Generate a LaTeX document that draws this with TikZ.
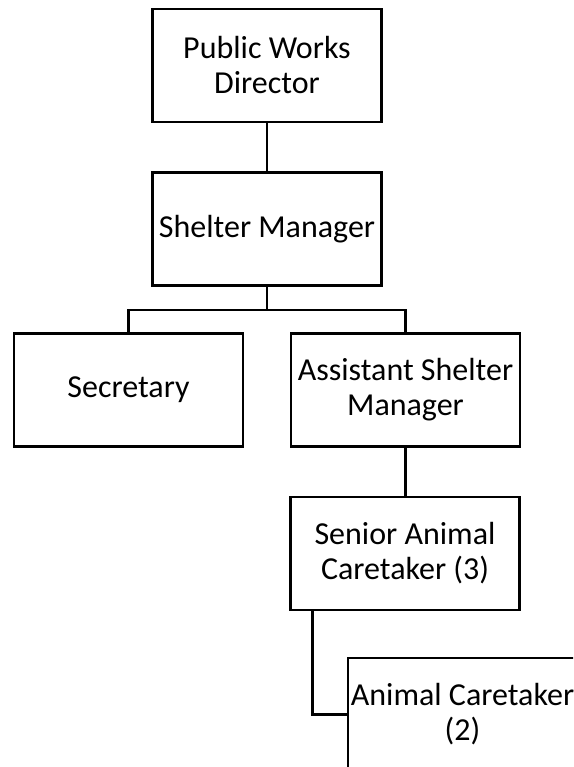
\documentclass[tikz,border=0pt]{standalone}
\usepackage{fontspec}
\setmainfont{Carlito}
\begin{document}
\begin{tikzpicture}[x=1pt,y=-1pt,
  box/.style={draw, line width=2.5pt, rectangle, minimum width=229pt, minimum height=113pt,
    inner sep=0pt, align=center, font=\fontsize{32}{35}\selectfont},
  conn/.style={line width=2.5pt}]
\useasboundingbox (0,0) rectangle (573,767);
\clip (0,0) rectangle (573,767);
\node[box] (b1) at (267,65.5) {Public Works\\Director};
\node[box] (b2) at (267,229) {Shelter Manager};
\node[box] (b3) at (128.5,390) {Secretary};
\node[box] (b4) at (405.5,390) {Assistant Shelter\\Manager};
\node[box] (b5) at (405,553.5) {Senior Animal\\Caretaker (3)};
\node[box] (b6) at (462.5,714.5) {Animal Caretaker\\(2)};
\coordinate (j) at (267,310);
\draw[conn] (b1.south) -- (b2.north);
\draw[conn] (b2.south) -- (j);
\draw[conn] (b3.north) |- (j) -| (b4.north);
\draw[conn] (b4.south) -- (b4.south |- b5.north);
\draw[conn] ([xshift=23pt]b5.south west) |- (b6.west);
\end{tikzpicture}
\end{document}
